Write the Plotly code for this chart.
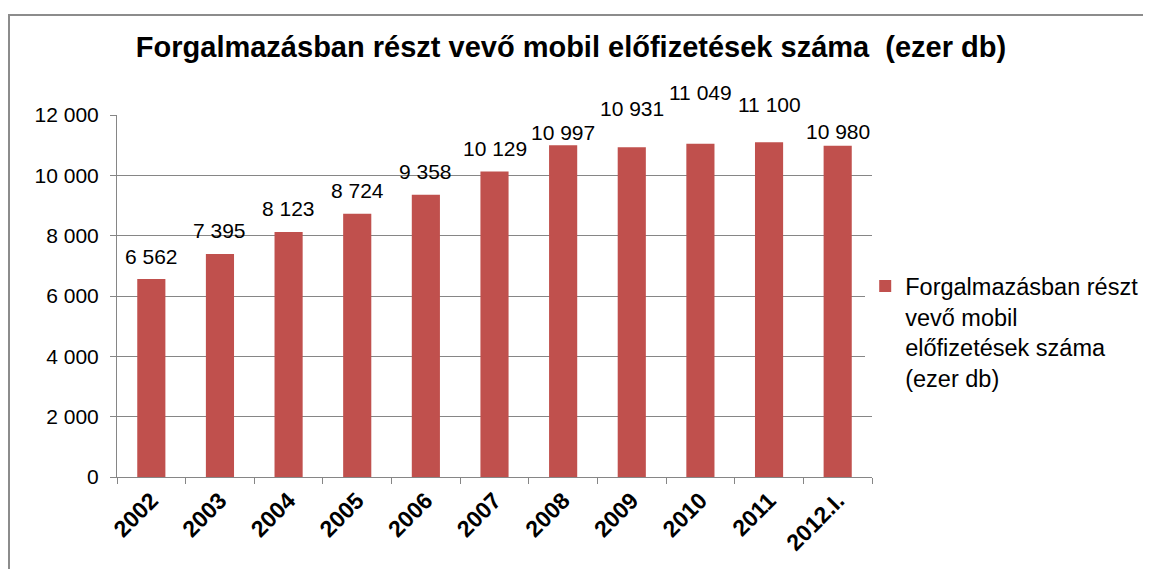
import plotly.graph_objects as go

categories = ["2002", "2003", "2004", "2005", "2006", "2007", "2008", "2009", "2010", "2011", "2012.I."]
values = [6562, 7395, 8123, 8724, 9358, 10129, 10997, 10931, 11049, 11100, 10980]
value_labels = ["6 562", "7 395", "8 123", "8 724", "9 358", "10 129", "10 997", "10 931", "11 049", "11 100", "10 980"]
label_shift_px = [23, 23, 23, 23, 23, 23, 13, 39, 51, 38, 14]
y_tick_vals = [0, 2000, 4000, 6000, 8000, 10000, 12000]
y_tick_text = ["0", "2 000", "4 000", "6 000", "8 000", "10 000", "12 000"]

series_name = "Forgalmazásban részt<br>vevő mobil<br>előfizetések száma<br>(ezer db)"
title_text = "Forgalmazásban részt vevő mobil előfizetések száma  (ezer db)"

BAR = "#C0504D"
FONT = "Liberation Sans, Arial, sans-serif"

fig = go.Figure()
fig.add_trace(go.Bar(
    x=categories, y=values, name=series_name,
    marker=dict(color=BAR, line=dict(width=0)),
    showlegend=True,
))

# on a category axis, annotation x is the category index
for i, (v, t, s) in enumerate(zip(values, value_labels, label_shift_px)):
    fig.add_annotation(x=i, y=v, xref="x", yref="y", text=t, showarrow=False,
                       yanchor="middle", yshift=s,
                       font=dict(family=FONT, size=21, color="#000000"))

# the page body adds an 8px offset; figure sized so it fits the window
W, H = 1143, 561
ml, mr, mt, mb = 109, 279, 107, 92

fig.update_layout(
    width=W, height=H,
    margin=dict(l=ml, r=mr, t=mt, b=mb, autoexpand=False),
    paper_bgcolor="white", plot_bgcolor="white",
    bargap=0.59,
    title=dict(text="<b>" + title_text + "</b>", x=563 / W, xref="container", xanchor="center",
               y=1 - 39 / H, yanchor="middle", yref="container",
               font=dict(family=FONT, size=29, color="#000000")),
    font=dict(family=FONT, color="#000000"),
    legend=dict(x=0.991, xanchor="left", y=0.40, yanchor="middle", valign="top",
                font=dict(family=FONT, size=23.5, color="#000000"),
                itemwidth=30, tracegroupgap=0),
    xaxis=dict(type="category", categoryorder="array", categoryarray=categories,
               range=[-0.5, len(categories) - 0.5],
               tickvals=categories, ticktext=["<b>" + c + "</b>" for c in categories],
               tickangle=-45, ticks="outside", tickson="boundaries",
               ticklen=6, tickcolor="#868686", showline=True, linecolor="#868686", linewidth=1,
               showgrid=False, tickfont=dict(family=FONT, size=23, color="#000000")),
    yaxis=dict(range=[0, 12000], tickvals=y_tick_vals, ticktext=y_tick_text,
               ticks="outside", ticklen=6, tickcolor="#868686", ticklabelstandoff=7,
               showline=True, linecolor="#868686", linewidth=1,
               showgrid=True, gridcolor="#868686", gridwidth=1, zeroline=False,
               tickfont=dict(family=FONT, size=21, color="#000000")),
)

# outer chart border (pixel coordinates converted to paper fraction)
pw, ph = W - ml - mr, H - mt - mb
def px_x(p):
    return (p - ml) / pw
def px_y(p):
    return (H - mb - p) / ph
fig.add_shape(type="rect", xref="paper", yref="paper",
              x0=px_x(1), x1=px_x(1170), y0=px_y(7), y1=px_y(600),
              line=dict(color="#8C8C8C", width=2), fillcolor="rgba(0,0,0,0)", layer="below")

fig.write_html("out.html")
